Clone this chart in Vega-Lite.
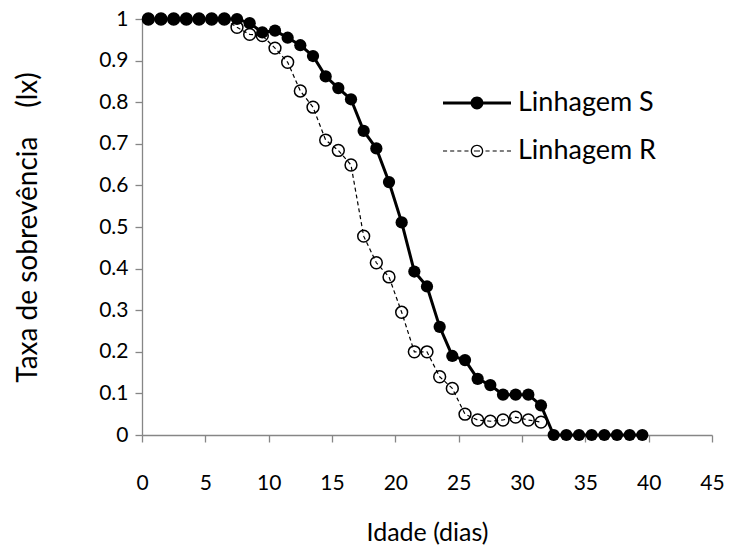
{
  "$schema": "https://vega.github.io/schema/vega-lite/v6.json",
  "width": 570,
  "height": 416,
  "autosize": "none",
  "padding": {"left": 142, "top": 19, "right": 19, "bottom": 117},
  "background": "white",
  "config": {
    "view": {"stroke": null},
    "font": "Lato",
    "axis": {
      "grid": false,
      "domainColor": "#868686",
      "tickColor": "#868686",
      "domainWidth": 1.3,
      "tickWidth": 1.3,
      "tickSize": 7,
      "labelColor": "#000000",
      "titleColor": "#000000",
      "labelFont": "Lato",
      "titleFont": "Lato",
      "labelFontSize": 21,
      "titleFontSize": 25,
      "titleFontWeight": "normal"
    }
  },
  "datasets": {
    "sobrevivencia": [
      {"serie": "Linhagem S", "dia": 0.5, "lx": 1},
      {"serie": "Linhagem S", "dia": 1.5, "lx": 1},
      {"serie": "Linhagem S", "dia": 2.5, "lx": 1},
      {"serie": "Linhagem S", "dia": 3.5, "lx": 1},
      {"serie": "Linhagem S", "dia": 4.5, "lx": 1},
      {"serie": "Linhagem S", "dia": 5.5, "lx": 1},
      {"serie": "Linhagem S", "dia": 6.5, "lx": 1},
      {"serie": "Linhagem S", "dia": 7.5, "lx": 1},
      {"serie": "Linhagem S", "dia": 8.5, "lx": 0.99},
      {"serie": "Linhagem S", "dia": 9.5, "lx": 0.968},
      {"serie": "Linhagem S", "dia": 10.5, "lx": 0.972},
      {"serie": "Linhagem S", "dia": 11.5, "lx": 0.955},
      {"serie": "Linhagem S", "dia": 12.5, "lx": 0.937},
      {"serie": "Linhagem S", "dia": 13.5, "lx": 0.911},
      {"serie": "Linhagem S", "dia": 14.5, "lx": 0.862},
      {"serie": "Linhagem S", "dia": 15.5, "lx": 0.834},
      {"serie": "Linhagem S", "dia": 16.5, "lx": 0.807},
      {"serie": "Linhagem S", "dia": 17.5, "lx": 0.731},
      {"serie": "Linhagem S", "dia": 18.5, "lx": 0.689},
      {"serie": "Linhagem S", "dia": 19.5, "lx": 0.608},
      {"serie": "Linhagem S", "dia": 20.5, "lx": 0.511},
      {"serie": "Linhagem S", "dia": 21.5, "lx": 0.393},
      {"serie": "Linhagem S", "dia": 22.5, "lx": 0.357},
      {"serie": "Linhagem S", "dia": 23.5, "lx": 0.26},
      {"serie": "Linhagem S", "dia": 24.5, "lx": 0.19},
      {"serie": "Linhagem S", "dia": 25.5, "lx": 0.18},
      {"serie": "Linhagem S", "dia": 26.5, "lx": 0.135},
      {"serie": "Linhagem S", "dia": 27.5, "lx": 0.12},
      {"serie": "Linhagem S", "dia": 28.5, "lx": 0.097},
      {"serie": "Linhagem S", "dia": 29.5, "lx": 0.097},
      {"serie": "Linhagem S", "dia": 30.5, "lx": 0.097},
      {"serie": "Linhagem S", "dia": 31.5, "lx": 0.071},
      {"serie": "Linhagem S", "dia": 32.5, "lx": 0},
      {"serie": "Linhagem S", "dia": 33.5, "lx": 0},
      {"serie": "Linhagem S", "dia": 34.5, "lx": 0},
      {"serie": "Linhagem S", "dia": 35.5, "lx": 0},
      {"serie": "Linhagem S", "dia": 36.5, "lx": 0},
      {"serie": "Linhagem S", "dia": 37.5, "lx": 0},
      {"serie": "Linhagem S", "dia": 38.5, "lx": 0},
      {"serie": "Linhagem S", "dia": 39.5, "lx": 0},
      {"serie": "Linhagem R", "dia": 0.5, "lx": 1},
      {"serie": "Linhagem R", "dia": 1.5, "lx": 1},
      {"serie": "Linhagem R", "dia": 2.5, "lx": 1},
      {"serie": "Linhagem R", "dia": 3.5, "lx": 1},
      {"serie": "Linhagem R", "dia": 4.5, "lx": 1},
      {"serie": "Linhagem R", "dia": 5.5, "lx": 1},
      {"serie": "Linhagem R", "dia": 6.5, "lx": 1},
      {"serie": "Linhagem R", "dia": 7.5, "lx": 0.98},
      {"serie": "Linhagem R", "dia": 8.5, "lx": 0.963},
      {"serie": "Linhagem R", "dia": 9.5, "lx": 0.96},
      {"serie": "Linhagem R", "dia": 10.5, "lx": 0.93},
      {"serie": "Linhagem R", "dia": 11.5, "lx": 0.896},
      {"serie": "Linhagem R", "dia": 12.5, "lx": 0.827},
      {"serie": "Linhagem R", "dia": 13.5, "lx": 0.788},
      {"serie": "Linhagem R", "dia": 14.5, "lx": 0.709},
      {"serie": "Linhagem R", "dia": 15.5, "lx": 0.684},
      {"serie": "Linhagem R", "dia": 16.5, "lx": 0.649},
      {"serie": "Linhagem R", "dia": 17.5, "lx": 0.478},
      {"serie": "Linhagem R", "dia": 18.5, "lx": 0.414},
      {"serie": "Linhagem R", "dia": 19.5, "lx": 0.38},
      {"serie": "Linhagem R", "dia": 20.5, "lx": 0.295},
      {"serie": "Linhagem R", "dia": 21.5, "lx": 0.2},
      {"serie": "Linhagem R", "dia": 22.5, "lx": 0.2},
      {"serie": "Linhagem R", "dia": 23.5, "lx": 0.14},
      {"serie": "Linhagem R", "dia": 24.5, "lx": 0.112},
      {"serie": "Linhagem R", "dia": 25.5, "lx": 0.05},
      {"serie": "Linhagem R", "dia": 26.5, "lx": 0.036},
      {"serie": "Linhagem R", "dia": 27.5, "lx": 0.033},
      {"serie": "Linhagem R", "dia": 28.5, "lx": 0.036},
      {"serie": "Linhagem R", "dia": 29.5, "lx": 0.043},
      {"serie": "Linhagem R", "dia": 30.5, "lx": 0.036},
      {"serie": "Linhagem R", "dia": 31.5, "lx": 0.031}
    ]
  },
  "data": {"name": "sobrevivencia"},
  "encoding": {
    "x": {
      "field": "dia",
      "type": "quantitative",
      "scale": {"domain": [0, 45], "nice": false, "zero": false},
      "axis": {
        "title": "Idade (dias)",
        "values": [0, 5, 10, 15, 20, 25, 30, 35, 40, 45],
        "labelPadding": 30,
        "titlePadding": 27,
        "labelFlush": false
      }
    },
    "y": {
      "field": "lx",
      "type": "quantitative",
      "scale": {"domain": [0, 1], "nice": false},
      "axis": {
        "title": "Taxa de sobrevência\u00a0\u00a0\u00a0 (lx)",
        "titleFontSize": 28,
        "values": [0, 0.1, 0.2, 0.3, 0.4, 0.5, 0.6, 0.7, 0.8, 0.9, 1],
        "format": "~g",
        "labelPadding": 7,
        "titlePadding": 56,
        "labelFlush": false
      }
    }
  },
  "layer": [
    {
      "mark": {"type": "point", "filled": true, "color": "black", "opacity": 0},
      "encoding": {
        "shape": {
          "field": "serie",
          "type": "nominal",
          "scale": {
            "domain": ["Linhagem S", "Linhagem R"],
            "range": [
              "M-1,-0.044H1V0.044H-1ZM0.19,0A0.19,0.19 0 1,1 -0.19,0A0.19,0.19 0 1,1 0.19,0Z",
              "M-1,-0.018H-0.88V0.018H-1ZM-0.79,-0.018H-0.67V0.018H-0.79ZM-0.58,-0.018H-0.46V0.018H-0.58ZM-0.37,-0.018H-0.25V0.018H-0.37ZM0.25,-0.018H0.37V0.018H0.25ZM0.46,-0.018H0.58V0.018H0.46ZM0.67,-0.018H0.79V0.018H0.67ZM0.88,-0.018H1V0.018H0.88ZM-0.09,-0.018H0.09V0.018H-0.09ZM0.184,0A0.184,0.184 0 1,1 -0.184,0A0.184,0.184 0 1,1 0.184,0ZM0.146,0A0.146,0.146 0 1,0 -0.146,0A0.146,0.146 0 1,0 0.146,0Z"
            ]
          },
          "legend": {
            "title": null,
            "orient": "none",
            "legendX": 301,
            "legendY": 50,
            "padding": 0,
            "symbolSize": 4624,
            "symbolFillColor": "black",
            "symbolStrokeColor": "black",
            "symbolStrokeWidth": 0,
            "symbolOpacity": 1,
            "labelFont": "Lato",
            "labelFontSize": 27,
            "labelColor": "#000000",
            "labelOffset": 7,
            "rowPadding": 1
          }
        }
      }
    },
    {
      "transform": [{"filter": "datum.serie === 'Linhagem R'"}],
      "mark": {"type": "line", "color": "black", "strokeWidth": 1.2, "strokeDash": [4, 3]}
    },
    {
      "transform": [{"filter": "datum.serie === 'Linhagem R'"}],
      "mark": {"type": "point", "shape": "circle", "filled": false, "color": "black", "strokeWidth": 1.5, "size": 140, "opacity": 1}
    },
    {
      "transform": [{"filter": "datum.serie === 'Linhagem S'"}],
      "mark": {"type": "line", "color": "black", "strokeWidth": 3}
    },
    {
      "transform": [{"filter": "datum.serie === 'Linhagem S'"}],
      "mark": {"type": "point", "shape": "circle", "filled": true, "color": "black", "size": 150, "opacity": 1}
    }
  ]
}
